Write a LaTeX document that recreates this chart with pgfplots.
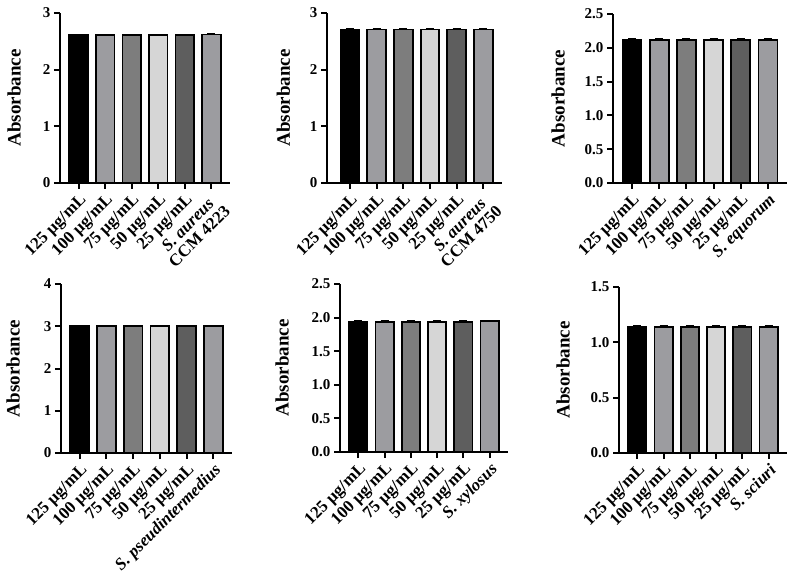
\documentclass[border=0pt]{standalone}
\usepackage{pgfplots}
\pgfplotsset{compat=1.18}
\usepackage{fontspec}
\setmainfont{Liberation Serif}

\definecolor{c1}{HTML}{000000}
\definecolor{c2}{HTML}{9C9CA0}
\definecolor{c3}{HTML}{7D7D7D}
\definecolor{c4}{HTML}{D6D6D6}
\definecolor{c5}{HTML}{5E5E5E}
\definecolor{c6}{HTML}{9C9CA0}

\newcommand\yfont{\bfseries\fontsize{15}{16}\selectfont}
\newcommand\xfont{\bfseries\fontsize{17}{16.5}\selectfont}
\newcommand\labfont{\bfseries\fontsize{19}{20}\selectfont}

\pgfplotsset{
  absbar/.style={
    scale only axis,
    anchor=south west,
    ybar, bar shift=0pt, bar width=0.7,
    xmin=-0.7, xmax=5.7, ymin=0,
    xtick={0,...,5},
    axis x line*=bottom, axis y line*=left,
    axis line style={-, line width=2.2pt, black},
    tick style={line width=2pt, black},
    major tick length=6pt,
    tick align=outside,
    /pgf/number format/assume math mode=true,
    yticklabel style={font=\yfont},
    xticklabel style={font=\xfont, rotate=45, anchor=north east, align=center, inner sep=2.5pt},
    ylabel={Absorbance},
    cycle list={
      {fill=c1,draw=black},{fill=c2,draw=black},{fill=c3,draw=black},
      {fill=c4,draw=black},{fill=c5,draw=black},{fill=c6,draw=black}},
    every axis plot/.append style={line width=1.8pt},
    error bars/y dir=plus, error bars/y explicit,
    error bars/error bar style={line width=1.4pt, black},
    error bars/error mark options={rotate=90, mark size=4pt, line width=1.4pt, black},
  },
  ylab/.style={ylabel style={at={(axis description cs:-#1,0.5)}, anchor=center, font=\labfont}},
  onedec/.style={yticklabel style={/pgf/number format/.cd, fixed, fixed zerofill, precision=1}},
}

\begin{document}
\begin{tikzpicture}
\useasboundingbox (0,0) rectangle (796pt,579pt);

% S. aureus CCM 4223
\begin{axis}[absbar, ylab=0.27, at={(60pt,396pt)}, width=170pt, height=170pt,
  ymax=3, ytick={0,1,2,3},
  xticklabels={125 µg/mL, 100 µg/mL, 75 µg/mL, 50 µg/mL, 25 µg/mL, {\textit{S. aureus}\\CCM 4223}}]
\addplot coordinates {(0,2.61) +- (0,0.01)};
\addplot coordinates {(1,2.61) +- (0,0.01)};
\addplot coordinates {(2,2.61) +- (0,0.01)};
\addplot coordinates {(3,2.61) +- (0,0.01)};
\addplot coordinates {(4,2.61) +- (0,0.01)};
\addplot coordinates {(5,2.62) +- (0,0.01)};
\end{axis}

% S. aureus CCM 4750
\begin{axis}[absbar, ylab=0.25, at={(327pt,396pt)}, width=175pt, height=170pt,
  xmin=-0.86,
  ymax=3, ytick={0,1,2,3},
  xticklabels={125 µg/mL, 100 µg/mL, 75 µg/mL, 50 µg/mL, 25 µg/mL, {\textit{S. aureus}\\CCM 4750}}]
\addplot coordinates {(0,2.71) +- (0,0.01)};
\addplot coordinates {(1,2.71) +- (0,0.01)};
\addplot coordinates {(2,2.71) +- (0,0.01)};
\addplot coordinates {(3,2.71) +- (0,0.01)};
\addplot coordinates {(4,2.71) +- (0,0.01)};
\addplot coordinates {(5,2.71) +- (0,0.01)};
\end{axis}

% S. equorum
\begin{axis}[absbar, onedec, ylab=0.316, at={(613pt,396pt)}, width=174pt, height=169pt,
  ymax=2.5, ytick={0,0.5,1,1.5,2,2.5},
  xticklabels={125 µg/mL, 100 µg/mL, 75 µg/mL, 50 µg/mL, 25 µg/mL, \textit{S. equorum}}]
\addplot coordinates {(0,2.12) +- (0,0.01)};
\addplot coordinates {(1,2.12) +- (0,0.01)};
\addplot coordinates {(2,2.12) +- (0,0.01)};
\addplot coordinates {(3,2.12) +- (0,0.01)};
\addplot coordinates {(4,2.12) +- (0,0.01)};
\addplot coordinates {(5,2.12) +- (0,0.01)};
\end{axis}

% S. pseudintermedius
\begin{axis}[absbar, ylab=0.28, at={(61pt,126pt)}, width=171pt, height=169pt,
  ymax=4, ytick={0,1,2,3,4},
  xticklabels={125 µg/mL, 100 µg/mL, 75 µg/mL, 50 µg/mL, 25 µg/mL, \textit{S. pseudintermedius}}]
\addplot coordinates {(0,3.00) +- (0,0.01)};
\addplot coordinates {(1,3.00) +- (0,0.01)};
\addplot coordinates {(2,3.00) +- (0,0.01)};
\addplot coordinates {(3,3.00) +- (0,0.01)};
\addplot coordinates {(4,3.00) +- (0,0.01)};
\addplot coordinates {(5,3.00) +- (0,0.01)};
\end{axis}

% S. xylosus
\begin{axis}[absbar, onedec, ylab=0.345, at={(340pt,127pt)}, width=168pt, height=168pt,
  ymax=2.5, ytick={0,0.5,1,1.5,2,2.5},
  xticklabels={125 µg/mL, 100 µg/mL, 75 µg/mL, 50 µg/mL, 25 µg/mL, \textit{S. xylosus}}]
\addplot coordinates {(0,1.94) +- (0,0.01)};
\addplot coordinates {(1,1.94) +- (0,0.01)};
\addplot coordinates {(2,1.94) +- (0,0.01)};
\addplot coordinates {(3,1.94) +- (0,0.01)};
\addplot coordinates {(4,1.94) +- (0,0.01)};
\addplot coordinates {(5,1.95) +- (0,0.01)};
\end{axis}

% S. sciuri
\begin{axis}[absbar, onedec, ylab=0.333, at={(619pt,126pt)}, width=168pt, height=166pt,
  ymax=1.5, ytick={0,0.5,1,1.5},
  xticklabels={125 µg/mL, 100 µg/mL, 75 µg/mL, 50 µg/mL, 25 µg/mL, \textit{S. sciuri}}]
\addplot coordinates {(0,1.14) +- (0,0.01)};
\addplot coordinates {(1,1.14) +- (0,0.01)};
\addplot coordinates {(2,1.14) +- (0,0.01)};
\addplot coordinates {(3,1.14) +- (0,0.01)};
\addplot coordinates {(4,1.14) +- (0,0.01)};
\addplot coordinates {(5,1.14) +- (0,0.01)};
\end{axis}
\end{tikzpicture}
\end{document}
